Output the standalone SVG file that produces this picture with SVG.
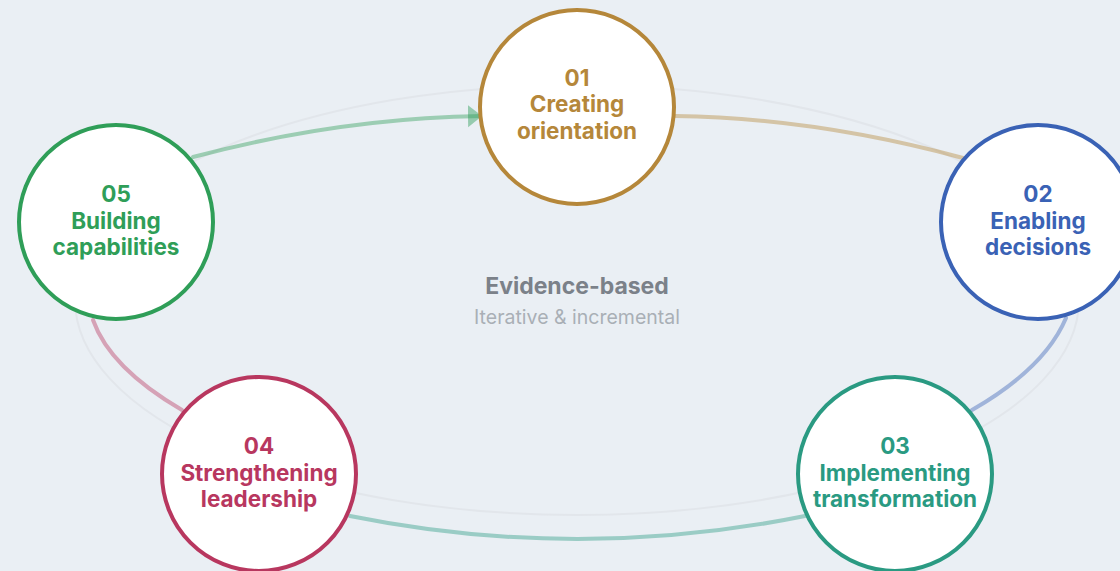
<svg xmlns="http://www.w3.org/2000/svg" width="1120" height="571" viewBox="0 0 1120 571">
  <style>
    .bg { fill: #EAEFF4; }
    .orbit { fill: none; stroke: #E2E6EB; stroke-width: 2; }
    .link { fill: none; stroke-width: 4; stroke-linecap: round; stroke-opacity: 0.42; }
    .node circle { fill: #FFFFFF; stroke-width: 4; }
    .node text { font-family: Inter, "Noto Sans", "DejaVu Sans", sans-serif; font-weight: 700; font-size: 22.5px; text-anchor: middle; }
    .title { font-family: Inter, "Noto Sans", sans-serif; font-weight: 700; font-size: 23px; fill: #7B8189; text-anchor: middle; }
    .subtitle { font-family: Inter, "Noto Sans", sans-serif; font-weight: 400; font-size: 19.5px; fill: #A9AFB6; text-anchor: middle; }
  </style>
  <defs>
    <marker id="arrow-green" markerUnits="userSpaceOnUse" markerWidth="16" markerHeight="24" refX="14" refY="11" orient="auto">
      <path d="M0,0 L14,11 L0,22 z" fill="#2F9E58" fill-opacity="0.45"/>
    </marker>
  </defs>

  <rect class="bg" x="0" y="0" width="1120" height="571"/>

  <!-- faint orbit behind the cycle -->
  <ellipse class="orbit" cx="577" cy="300" rx="502" ry="215"/>

  <!-- cycle connectors, coloured by source stage -->
  <g id="connectors">
    <path class="link" stroke="#2F9E58" d="M193,157 Q340,118 482,116" marker-end="url(#arrow-green)"/>
    <path class="link" stroke="#B5873A" d="M675,116 Q815,118 963,158"/>
    <path class="link" stroke="#3A62B5" d="M1066,318 Q1045,368 972,410"/>
    <path class="link" stroke="#2A9A82" d="M805,516 Q577,562 350,516"/>
    <path class="link" stroke="#B8375F" d="M182,410 Q110,368 93,320"/>
  </g>

  <!-- centre label -->
  <text class="title" x="577" y="294">Evidence-based</text>
  <text class="subtitle" x="577" y="324">Iterative &amp; incremental</text>

  <g id="node-01" class="node">
    <circle cx="577" cy="107" r="97" stroke="#B5873A"/>
    <text fill="#B5873A"><tspan x="577" y="86">01</tspan><tspan x="577" y="112">Creating</tspan><tspan x="577" y="139">orientation</tspan></text>
  </g>

  <g id="node-02" class="node">
    <circle cx="1038" cy="222" r="97" stroke="#3A62B5"/>
    <text fill="#3A62B5"><tspan x="1038" y="202">02</tspan><tspan x="1038" y="229">Enabling</tspan><tspan x="1038" y="255">decisions</tspan></text>
  </g>

  <g id="node-03" class="node">
    <circle cx="895" cy="474" r="97" stroke="#2A9A82"/>
    <text fill="#2A9A82"><tspan x="895" y="454">03</tspan><tspan x="895" y="481">Implementing</tspan><tspan x="895" y="507">transformation</tspan></text>
  </g>

  <g id="node-04" class="node">
    <circle cx="259" cy="474" r="97" stroke="#B8375F"/>
    <text fill="#B8375F"><tspan x="259" y="454">04</tspan><tspan x="259" y="481">Strengthening</tspan><tspan x="259" y="507">leadership</tspan></text>
  </g>

  <g id="node-05" class="node">
    <circle cx="116" cy="222" r="97" stroke="#2F9E58"/>
    <text fill="#2F9E58"><tspan x="116" y="202">05</tspan><tspan x="116" y="229">Building</tspan><tspan x="116" y="255">capabilities</tspan></text>
  </g>
</svg>
